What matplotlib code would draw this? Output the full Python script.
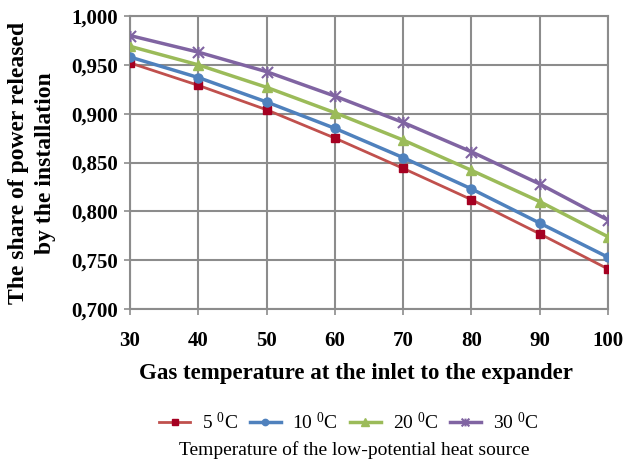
import matplotlib
matplotlib.use("Agg")
import matplotlib.pyplot as plt
from matplotlib.path import Path
from matplotlib.ticker import FuncFormatter, MultipleLocator

plt.rcParams['font.family'] = ['Liberation Serif', 'DejaVu Serif']
plt.rcParams['mathtext.fontset'] = 'custom'
plt.rcParams['mathtext.rm'] = 'Liberation Serif'
plt.rcParams['mathtext.it'] = 'Liberation Serif:italic'
plt.rcParams['mathtext.bf'] = 'Liberation Serif:bold'

x_temps = [30, 40, 50, 60, 70, 80, 90, 100]
s5 = [0.952, 0.929, 0.904, 0.875, 0.844, 0.812, 0.777, 0.741]
s10 = [0.958, 0.937, 0.912, 0.885, 0.855, 0.823, 0.788, 0.753]
s20 = [0.969, 0.950, 0.927, 0.901, 0.873, 0.842, 0.810, 0.774]
s30 = [0.980, 0.963, 0.943, 0.918, 0.891, 0.861, 0.828, 0.791]
labels = ['5 $^0$C', '10 $^0$C', '20 $^0$C', '30 $^0$C']

star = Path([(-1, -1), (1, 1), (-1, 1), (1, -1), (0, -1), (0, 1)],
            [Path.MOVETO, Path.LINETO, Path.MOVETO, Path.LINETO, Path.MOVETO, Path.LINETO])

fig = plt.figure(figsize=(6.33, 4.63), dpi=100)
ax = fig.add_axes([0.2054, 0.3326, 0.7551, 0.6328])

ax.plot(x_temps, s5, color='#C0504D', lw=2, marker='s', ms=6, mfc='#A50021', mec='#A50021', label=labels[0], zorder=3)
ax.plot(x_temps, s10, color='#4F81BD', lw=2.5, marker='o', ms=6.5, mfc='#4F81BD', mec='#4F81BD', label=labels[1], zorder=3)
ax.plot(x_temps, s20, color='#9BBB59', lw=2.5, marker='^', ms=7.5, mfc='#9BBB59', mec='#9BBB59', label=labels[2], zorder=3)
ax.plot(x_temps, s30, color='#8064A2', lw=2.5, marker=star, ms=8, mfc='none', mec='#8064A2', mew=1.5, label=labels[3], zorder=3)

ax.set_xlim(30, 100)
ax.set_ylim(0.7, 1.0)
ax.xaxis.set_major_locator(MultipleLocator(10))
ax.yaxis.set_major_locator(MultipleLocator(0.05))
ax.yaxis.set_major_formatter(FuncFormatter(lambda v, p: f"{v:.3f}".replace('.', ',')))
ax.grid(True, color='#8C8C8C', lw=1.5)
ax.set_axisbelow(True)
for s in ax.spines.values():
    s.set_color('#8C8C8C')
    s.set_linewidth(1.5)
ax.tick_params(axis='both', length=4, color='#8C8C8C', width=1.2, labelsize=15)
ax.tick_params(axis='y', pad=5)
ax.tick_params(axis='x', pad=12)
for lab in ax.get_xticklabels() + ax.get_yticklabels():
    lab.set_fontweight('bold')

fig.text(0.029, 0.6485, 'The share of power released', rotation=90, ha='center', va='center', fontsize=17, fontweight='bold')
fig.text(0.072, 0.6485, 'by the installation', rotation=90, ha='center', va='center', fontsize=17, fontweight='bold')
fig.text(0.562, 0.194, 'Gas temperature at the inlet to the expander', ha='center', va='center', fontsize=16.5, fontweight='bold')

leg = fig.legend(loc='center', bbox_to_anchor=(0.551, 0.088), ncol=4, frameon=False, fontsize=14,
                 handlelength=1.6, columnspacing=0.6, handletextpad=0.6, markerscale=0.7)
fig.text(0.56, 0.028, 'Temperature of the low-potential heat source', ha='center', va='center', fontsize=14)

fig.savefig('out.png', dpi=100)
